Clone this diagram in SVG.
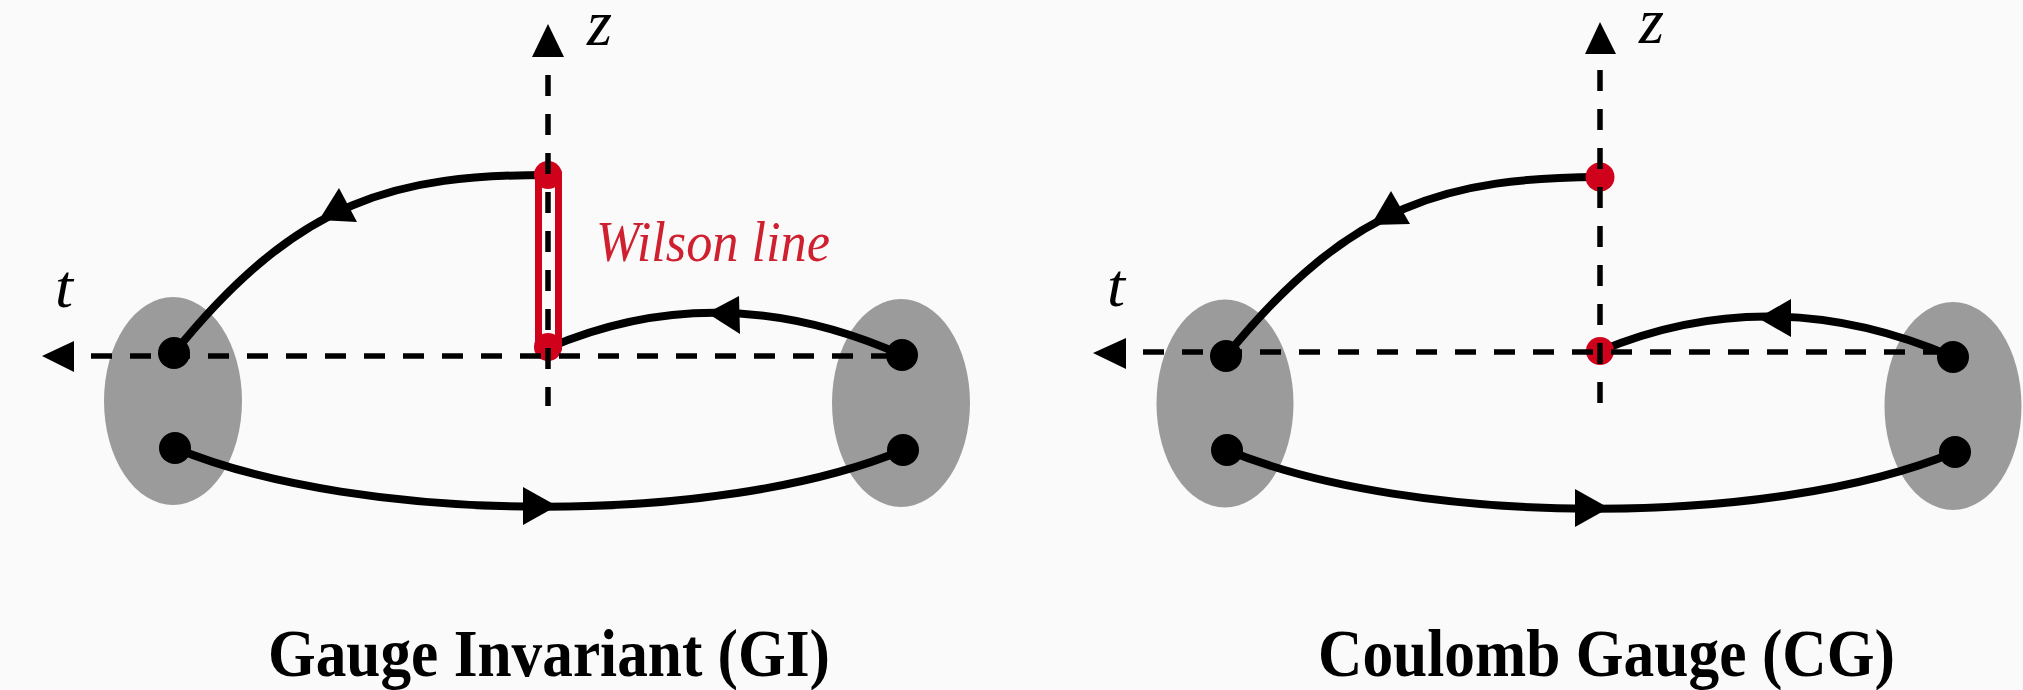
<svg xmlns="http://www.w3.org/2000/svg" width="2023" height="690" viewBox="0 0 2023 690">
<style>
.bg{fill:#fafafa}
.blob{fill:#9b9b9b}
.dot{fill:#000}
.rdot{fill:#d0021b}
.curve{fill:none;stroke:#000;stroke-width:8}
.axis{fill:none;stroke:#000;stroke-width:5.5;stroke-dasharray:21 18}
.head{fill:#000}
.wil{fill:#fafafa;stroke:#d0021b;stroke-width:7}
.lab{font-family:"Liberation Serif","Times New Roman",serif;font-style:italic;fill:#000}
.title{font-family:"Liberation Serif","Times New Roman",serif;font-weight:bold;font-size:68px;fill:#000}
.wtxt{font-family:"Liberation Serif","Times New Roman",serif;font-style:italic;font-size:58px;fill:#cf2030}
</style>
<rect class="bg" x="0" y="0" width="2023" height="690"/>

<!-- Gauge Invariant panel -->
<g id="gi-left-blob"><ellipse class="blob" cx="173" cy="401" rx="69" ry="104"/></g>
<g id="gi-right-blob"><ellipse class="blob" cx="901" cy="403" rx="69" ry="104"/></g>

<g id="gi-connectors">
<path class="curve" d="M548,175 C398,175 300,197 174,353"/>
<path class="curve" d="M548,348 Q720,274 902,355"/>
<path class="curve" d="M175,448 C360,525 718,527 903,450"/>
</g>

<g id="gi-wilson-line">
<rect class="wil" x="538.5" y="175" width="20" height="172"/>
<circle class="rdot" cx="548" cy="175" r="14"/>
<circle class="rdot" cx="548" cy="347" r="14"/>
</g>

<g id="gi-axes">
<line class="axis" x1="91" y1="356" x2="902" y2="356"/>
<line class="axis" x1="548" y1="75" x2="548" y2="406"/>
<polygon class="head" points="42,356 74,341 74,372"/>
<polygon class="head" points="548,24 532,57 564,57"/>
</g>

<g id="gi-quarks">
<circle class="dot" cx="174" cy="353" r="16"/>
<circle class="dot" cx="175" cy="448" r="16"/>
<circle class="dot" cx="902" cy="355" r="16"/>
<circle class="dot" cx="903" cy="450" r="16"/>
</g>

<g id="gi-arrows">
<polygon class="head" points="319,220 339,188 357,222"/>
<polygon class="head" points="707,313 739,296 740,334"/>
<polygon class="head" points="557,506 523,487 523,525"/>
</g>

<g id="gi-labels">
<text class="lab" x="55" y="307" font-size="62" textLength="18" lengthAdjust="spacingAndGlyphs">t</text>
<text class="lab" x="587" y="45" font-size="66" textLength="25" lengthAdjust="spacingAndGlyphs">z</text>
<text class="wtxt" x="596" y="261" textLength="234" lengthAdjust="spacingAndGlyphs">Wilson line</text>
<text class="title" x="268" y="676" textLength="562" lengthAdjust="spacingAndGlyphs">Gauge Invariant (GI)</text>
</g>

<!-- Coulomb Gauge panel -->
<g id="cg-left-blob"><ellipse class="blob" cx="1225" cy="403.5" rx="68.5" ry="104"/></g>
<g id="cg-right-blob"><ellipse class="blob" cx="1953" cy="406" rx="68.5" ry="104"/></g>

<g id="cg-connectors">
<path class="curve" d="M1600,177 C1450,178 1352,201 1226,356"/>
<path class="curve" d="M1600,351 Q1772,279 1953,357"/>
<path class="curve" d="M1227,450 C1412,527 1770,529 1955,452"/>
</g>

<g id="cg-points">
<circle class="rdot" cx="1600" cy="177" r="14.5"/>
<circle class="rdot" cx="1600" cy="351" r="14"/>
</g>

<g id="cg-axes">
<line class="axis" x1="1143" y1="352" x2="1953" y2="352"/>
<line class="axis" x1="1600" y1="70" x2="1600" y2="403"/>
<polygon class="head" points="1093,353 1126,338 1126,369"/>
<polygon class="head" points="1600,22 1585,54 1616,54"/>
</g>

<g id="cg-quarks">
<circle class="dot" cx="1226" cy="356" r="16"/>
<circle class="dot" cx="1227" cy="450" r="16"/>
<circle class="dot" cx="1953" cy="357" r="16"/>
<circle class="dot" cx="1955" cy="452" r="16"/>
</g>

<g id="cg-arrows">
<polygon class="head" points="1371,225 1391,191 1410,224"/>
<polygon class="head" points="1758,318 1791,299 1791,337"/>
<polygon class="head" points="1609,508 1575,489 1575,527"/>
</g>

<g id="cg-labels">
<text class="lab" x="1107" y="306" font-size="62" textLength="18" lengthAdjust="spacingAndGlyphs">t</text>
<text class="lab" x="1639" y="43" font-size="66" textLength="25" lengthAdjust="spacingAndGlyphs">z</text>
<text class="title" x="1318" y="676" textLength="577" lengthAdjust="spacingAndGlyphs">Coulomb Gauge (CG)</text>
</g>
</svg>
